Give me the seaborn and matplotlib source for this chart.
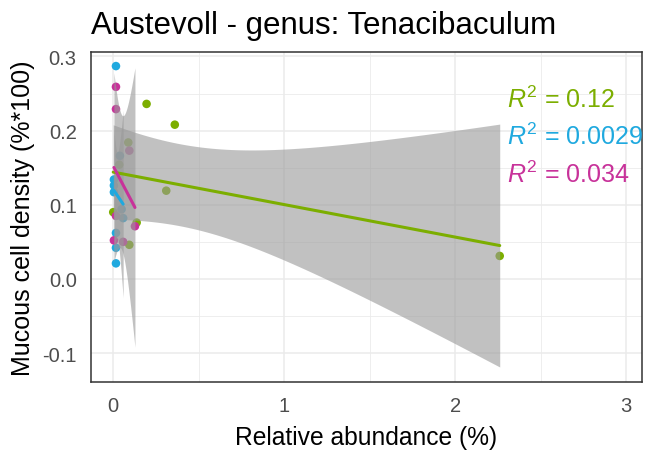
import numpy as np
import pandas as pd
import matplotlib.pyplot as plt
import seaborn as sns

# points (relative abundance %, mucous cell density)
green_x = [0.195, 0.36, 0.088, 0.035, 0.31, 0.0, 0.137, 0.094, 2.26]
green_y = [0.236, 0.208, 0.184, 0.154, 0.119, 0.090, 0.076, 0.046, 0.031]
blue_x = [0.016, 0.039, 0.004, 0.004, 0.004, 0.049, 0.058, 0.016, 0.016, 0.016]
blue_y = [0.287, 0.166, 0.134, 0.126, 0.117, 0.094, 0.082, 0.062, 0.042, 0.021]
pink_x = [0.016, 0.016, 0.094, 0.016, 0.127, 0.004, 0.058]
pink_y = [0.259, 0.229, 0.173, 0.085, 0.071, 0.052, 0.050]

groups = ["green", "blue", "pink"]
colors = {"green": "#7CAE00", "blue": "#1FA9DF", "pink": "#C8329A"}
r2_labels = ["0.12", "0.0029", "0.034"]
r2_y = [0.243, 0.193, 0.142]
# two sided 95% t values for df = n - 2
t95 = {5: 2.571, 7: 2.365, 8: 2.306}

df = pd.concat([
    pd.DataFrame({"x": green_x, "y": green_y, "grp": "green"}),
    pd.DataFrame({"x": blue_x, "y": blue_y, "grp": "blue"}),
    pd.DataFrame({"x": pink_x, "y": pink_y, "grp": "pink"}),
])

sns.set_style("white")
plt.rcParams["font.family"] = ["Liberation Sans", "DejaVu Sans"]
plt.rcParams["mathtext.fontset"] = "custom"
plt.rcParams["mathtext.rm"] = "Liberation Sans"
plt.rcParams["mathtext.it"] = "Liberation Sans:italic"
plt.rcParams["axes.unicode_minus"] = False

fig = plt.figure(figsize=(6.52, 4.56), dpi=100)
ax = fig.add_axes([91 / 652, 1 - 383 / 456, 551 / 652, 330 / 456])

sns.scatterplot(data=df, x="x", y="y", hue="grp", palette=colors, s=38,
                edgecolor="none", legend=False, ax=ax, zorder=2)

# lm fit + 95% confidence band, like geom_smooth(method = "lm")
for g in groups:
    d = df[df["grp"] == g]
    x = d["x"].values
    y = d["y"].values
    n = len(x)
    b, a = np.polyfit(x, y, 1)
    xs = np.linspace(x.min(), x.max(), 80)
    fit = a + b * xs
    resid = y - (a + b * x)
    s = np.sqrt(np.sum(resid ** 2) / (n - 2))
    sxx = np.sum((x - x.mean()) ** 2)
    se = s * np.sqrt(1 / n + (xs - x.mean()) ** 2 / sxx)
    band = t95[n - 2] * se
    ax.fill_between(xs, fit - band, fit + band, color="#999999", alpha=0.6,
                    linewidth=0, zorder=3)
    sns.lineplot(x=xs, y=fit, color=colors[g], linewidth=2.2, ax=ax, zorder=4)

for g, lab, yy in zip(groups, r2_labels, r2_y):
    ax.text(2.30, yy, r"$R^2$ = " + lab, color=colors[g], fontsize=18,
            ha="left", va="center", clip_on=False, zorder=5)

ax.set_xlim(-0.13, 3.092)
ax.set_ylim(-0.139, 0.306)
ax.set_xticks([0, 1, 2, 3])
ax.set_yticks([-0.1, 0.0, 0.1, 0.2, 0.3])
ax.set_xticks([0.5, 1.5, 2.5], minor=True)
ax.set_yticks([-0.05, 0.05, 0.15, 0.25], minor=True)
ax.grid(True, which="major", color="#EBEBEB", linewidth=1.1, zorder=0)
ax.grid(True, which="minor", color="#EBEBEB", linewidth=0.6, zorder=0)
ax.set_axisbelow(True)
for sp in ax.spines.values():
    sp.set_color("#333333")
    sp.set_linewidth(1.1)
ax.tick_params(which="major", direction="out", length=4.3, width=1.1,
               color="#333333", labelcolor="#4D4D4D", labelsize=14.5)
ax.tick_params(axis="x", pad=6)
ax.tick_params(axis="y", pad=6)
ax.tick_params(which="minor", length=0)

ax.set_xlabel("Relative abundance (%)", fontsize=17.7, color="black", labelpad=7)
ax.set_ylabel("Mucous cell density (%*100)", fontsize=18, color="black", labelpad=5)
ax.set_title("Austevoll - genus: Tenacibaculum", fontsize=22.5, loc="left",
             pad=14, color="black")

fig.savefig("out.png", dpi=100)
